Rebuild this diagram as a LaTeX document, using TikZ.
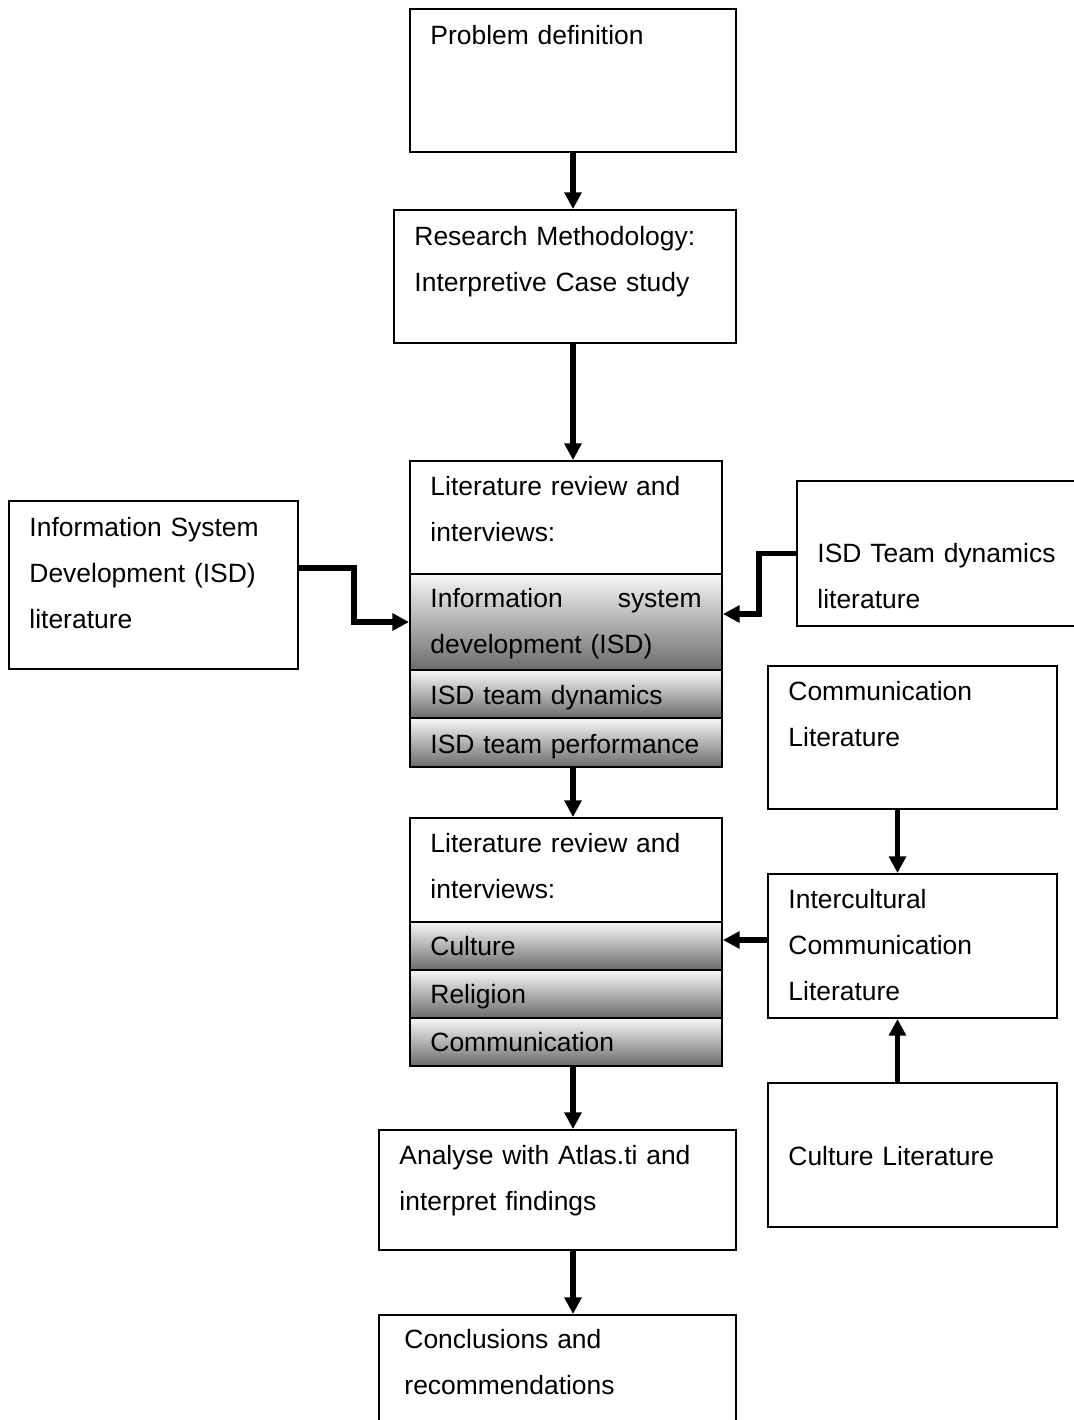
\documentclass[tikz,border=0pt]{standalone}
\usepackage{fontspec}
\setmainfont{Liberation Sans}
\usetikzlibrary{arrows.meta,fit}
\newcommand{\pix}{0.45pt}
\tikzset{
  box/.style={draw, line width=0.9pt, fill=white, inner sep=0pt},
  bar/.style={box, top color=white!97!black, bottom color=black!58},
  txt/.style={anchor=base west, inner sep=0pt, align=left, text width=135pt, font=\fontsize{11.9}{20.7}\selectfont},
  flow/.style={line width=2.4pt, -{Triangle[length=7.5pt,width=7.5pt]}}
}
\begin{document}
\begin{tikzpicture}[x=\pix,y=-\pix]
\useasboundingbox (0,0) rectangle (1074,1420);
% middle column
\node[box, fit={(410,9) (736,152)}] (prob) {};
\node[txt] (probtxt) at ([shift={(21,36)}]prob.north west) {Problem definition};
\node[box, fit={(394,210) (736,343)}] (res) {};
\node[txt] (restxt) at ([shift={(21,36)}]res.north west) {Research Methodology:\\Interpretive Case study};
\node[box, fit={(410,461) (722,767)}] (lit1) {};
\node[txt] (lit1txt) at ([shift={(21,35)}]lit1.north west) {Literature review and\\interviews:};
\node[bar, fit={(410,574) (722,670)}] (isdbar) {};
\node[txt, text width=122pt] (isdbartxt) at ([shift={(21,34)}]isdbar.north west) {Information\hfill system\\development (ISD)};
\node[bar, fit={(410,670) (722,718)}] (dynbar) {};
\node[txt] (dynbartxt) at ([shift={(21,35)}]dynbar.north west) {ISD team dynamics};
\node[bar, fit={(410,718) (722,767)}] (perfbar) {};
\node[txt] (perfbartxt) at ([shift={(21,36)}]perfbar.north west) {ISD team performance};
\node[box, fit={(410,818) (722,1066)}] (lit2) {};
\node[txt] (lit2txt) at ([shift={(21,35)}]lit2.north west) {Literature review and\\interviews:};
\node[bar, fit={(410,922) (722,970)}] (culbar) {};
\node[txt] (culbartxt) at ([shift={(21,34)}]culbar.north west) {Culture};
\node[bar, fit={(410,970) (722,1018)}] (relbar) {};
\node[txt] (relbartxt) at ([shift={(21,34)}]relbar.north west) {Religion};
\node[bar, fit={(410,1018) (722,1066)}] (combar) {};
\node[txt] (combartxt) at ([shift={(21,34)}]combar.north west) {Communication};
\node[box, fit={(379,1130) (736,1250)}] (ana) {};
\node[txt] (anatxt) at ([shift={(21,35)}]ana.north west) {Analyse with Atlas.ti and\\interpret findings};
\node[box, fit={(379,1315) (736,1440)}] (conc) {};
\node[txt] (conctxt) at ([shift={(26,34)}]conc.north west) {Conclusions and\\recommendations};
% side boxes
\node[box, fit={(9,501) (298,669)}] (isd) {};
\node[txt] (isdtxt) at ([shift={(21,36)}]isd.north west) {Information System\\Development (ISD)\\literature};
\node[box, fit={(797,481) (1090,626)}] (team) {};
\node[txt] (teamtxt) at ([shift={(21,82)}]team.north west) {ISD Team dynamics\\literature};
\node[box, fit={(768,666) (1057,809)}] (comm) {};
\node[txt] (commtxt) at ([shift={(21,35)}]comm.north west) {Communication\\Literature};
\node[box, fit={(768,874) (1057,1018)}] (inter) {};
\node[txt] (intertxt) at ([shift={(21,35)}]inter.north west) {Intercultural\\Communication\\Literature};
\node[box, fit={(768,1083) (1057,1227)}] (cult) {};
\node[txt] (culttxt) at ([shift={(21,83)}]cult.north west) {Culture Literature};
% arrows
\draw[flow] (prob.south) -- (res.north -| prob.south);
\draw[flow] (res.south -| prob.south) -- (lit1.north -| prob.south);
\draw[flow] (perfbar.south -| prob.south) -- (lit2.north -| prob.south);
\draw[flow] (combar.south -| prob.south) -- (ana.north -| prob.south);
\draw[flow] (ana.south -| prob.south) -- (conc.north -| prob.south);
\draw[flow] ([shift={(0,-17)}]isd.east) -- ++(55,0) |- (isdbar.west);
\draw[flow] (team.west) -- ++(-37,0) |- ([shift={(0,-8)}]isdbar.east);
\draw[flow] ([shift={(0,-6)}]inter.west) -- ([shift={(0,-6)}]culbar.east);
\draw[flow] ([shift={(-15,0)}]comm.south) -- ([shift={(-15,0)}]inter.north);
\draw[flow] ([shift={(-15,0)}]cult.north) -- ([shift={(-15,0)}]inter.south);
\end{tikzpicture}
\end{document}
